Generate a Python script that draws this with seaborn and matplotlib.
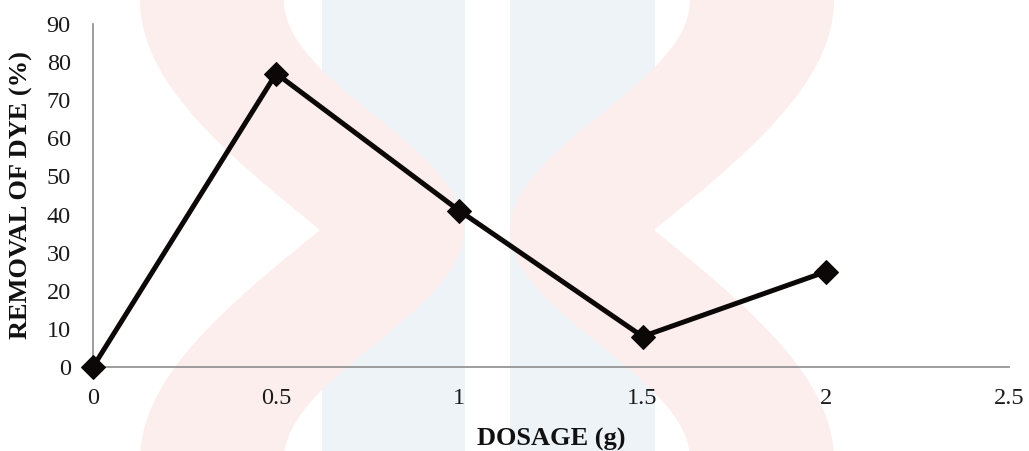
import numpy as np
import pandas as pd
import matplotlib
matplotlib.use("Agg")
import matplotlib.pyplot as plt
from matplotlib.patches import Polygon, Rectangle
import seaborn as sns

# Dye removal versus adsorbent dosage
dosage_g = [0, 0.5, 1, 1.5, 2]
removal_pct = [0, 77, 41, 8, 25]
x_ticks = [0, 0.5, 1, 1.5, 2, 2.5]
y_ticks = list(range(0, 100, 10))

sns.set_theme(style="white")
plt.rcParams["font.family"] = ["Liberation Serif", "DejaVu Serif"]

W, H = 1029, 451
fig = plt.figure(figsize=(W / 100, H / 100), dpi=100)
fig.patch.set_facecolor("white")

# faint logo watermark on a background layer (pixel coordinates, y down)
bg = fig.add_axes([0, 0, 1, 1], zorder=-10)
bg.set_xlim(0, W)
bg.set_ylim(H, 0)
bg.axis("off")

blue = "#eef3f8"
pink = "#fdeeee"
for x0, x1 in [(322, 465), (510, 655)]:
    bg.add_patch(Rectangle((x0, 0), x1 - x0, H, facecolor=blue,
                           edgecolor="none"))

yy = np.linspace(0, H, 300)
t = np.clip(1 - np.abs(yy - 230) / 230, 0, 1)
left_edge = 140 + 180 * (1 - np.cos(np.pi * t / 2))
right_edge = 284 + 180 * (0.5 - 0.5 * np.cos(np.pi * t))
cx = 487
for xs in (np.r_[left_edge, right_edge[::-1]],
           np.r_[2 * cx - left_edge, (2 * cx - right_edge)[::-1]]):
    bg.add_patch(Polygon(np.column_stack([xs, np.r_[yy, yy[::-1]]]),
                         closed=True, facecolor=pink, edgecolor="none"))

ax = fig.add_axes([93 / W, 1 - 367 / H, (1009 - 93) / W, (367 - 24) / H])
ax.patch.set_alpha(0)

df = pd.DataFrame({"dosage": dosage_g, "removal": removal_pct})
sns.lineplot(data=df, x="dosage", y="removal", ax=ax, color="#0d0808",
             linewidth=3.6, marker="D", markersize=12,
             markeredgecolor="#0d0808", markerfacecolor="#0d0808",
             clip_on=False, zorder=5)

ax.set_xlim(0, 2.5)
ax.set_ylim(0, 90)
ax.set_xticks(x_ticks)
ax.set_xticklabels([f"{t:g}" for t in x_ticks])
ax.set_yticks(y_ticks)
ax.set_yticklabels([str(t) for t in y_ticks])
ax.tick_params(axis="both", length=0, labelsize=17.5, colors="#1a1a1a")
ax.tick_params(axis="x", pad=15)
ax.tick_params(axis="y", pad=16)

for side in ["top", "right"]:
    ax.spines[side].set_visible(False)
for side in ["left", "bottom"]:
    ax.spines[side].set_color("#8c8c8c")
    ax.spines[side].set_linewidth(1.2)

ax.set_xlabel("DOSAGE (g)", fontsize=19, fontweight="bold", labelpad=14,
              color="#111111")
ax.set_ylabel("REMOVAL OF DYE (%)", fontsize=19, fontweight="bold",
              labelpad=10, color="#111111")

fig.savefig("out.png", dpi=100, facecolor="white")
